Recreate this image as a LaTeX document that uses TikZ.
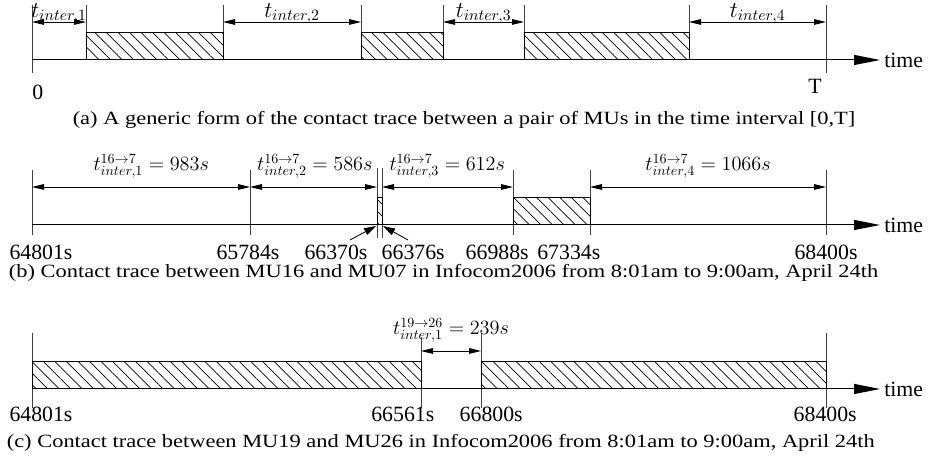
\RequirePackage{fix-cm}
\documentclass[tikz,border=0pt]{standalone}
\usepackage{fontspec}
\setmainfont{Liberation Serif}
\newfontfamily\capfont[FakeStretch=1.2]{Liberation Serif}
\usetikzlibrary{arrows.meta,patterns.meta}

\tikzset{
  axisline/.style={line width=0.7pt, -{Triangle[length=6.5mm,width=2.5mm]}},
  tickline/.style={line width=0.7pt, black!75},
  contact/.style={line width=0.7pt, pattern={Lines[angle=-45,distance=5.8pt,line width=0.5pt]}},
  dimarrow/.style={line width=0.6pt, {Triangle[length=3mm,width=1.4mm]}-{Triangle[length=3mm,width=1.4mm]}},
  ptrarrow/.style={line width=0.6pt, -{Triangle[length=3mm,width=1.8mm]}},
  ticklabel/.style={anchor=base, inner sep=0pt, font=\fontsize{15.5}{18}\selectfont},
  timelabel/.style={anchor=west, inner sep=0pt, font=\fontsize{15.5}{18}\selectfont},
  mathlabel/.style={anchor=base, inner sep=0pt, font=\fontsize{14.4}{17}\selectfont},
  genlabel/.style={anchor=base, inner sep=0pt, font=\fontsize{16}{19}\selectfont},
  caption/.style={inner sep=0pt, font=\capfont\fontsize{13.3}{16}\selectfont}
}

\begin{document}
\begin{tikzpicture}

\useasboundingbox (0,0) rectangle (23.225,11.7);

% ----------------------------------------------------
% (a) generic contact trace
% ----------------------------------------------------
\begin{scope}[yshift=10.2cm]
  \coordinate (a0) at (0.8,0);
  \coordinate (aend) at (22.0,0);
  \draw[tickline] (0.8,-0.325) -- (0.8,1.375);
  \draw[tickline] (20.65,-0.325) -- (20.65,1.375);
  \foreach \x in {2.15,5.575,9.025,11.075,13.1,17.225}
    \draw[tickline] (\x,0) -- (\x,1.375);

  \draw[contact] (2.15,0) rectangle (5.575,0.675);
  \draw[contact] (9.025,0) rectangle (11.075,0.675);
  \draw[contact] (13.1,0) rectangle (17.225,0.675);

  \draw[axisline] (a0) -- (aend);
  \node[timelabel] (atime) at (22.1,0) {time};

  % inter-contact times
  \foreach \x/\n in {0.8/0, 2.15/1, 5.575/2, 9.025/3, 11.075/4, 13.1/5, 17.225/6, 20.65/7}
    \coordinate (ad\n) at (\x,0.95);
  \draw[dimarrow] (ad0) -- (ad1);
  \draw[dimarrow] (ad2) -- (ad3);
  \draw[dimarrow] (ad4) -- (ad5);
  \draw[dimarrow] (ad6) -- (ad7);
  \node[genlabel] (at1) at (1.475,1.07) {$t_{inter,1}$};
  \node[genlabel] (at2) at (7.3,1.07) {$t_{inter,2}$};
  \node[genlabel] (at3) at (12.09,1.07) {$t_{inter,3}$};
  \node[genlabel] (at4) at (18.94,1.07) {$t_{inter,4}$};

  \node[ticklabel, anchor=base west] (azero) at (0.8,-1.0) {0};
  \node[ticklabel, anchor=base east] (aT) at (20.55,-0.85) {T};

  \node[caption] (acap) at (11.6,-1.5) {(a) A generic form of the contact trace between a pair of MUs in the time interval [0,T]};
\end{scope}

% ----------------------------------------------------
% (b) MU16 and MU07
% ----------------------------------------------------
\begin{scope}[yshift=6.075cm]
  \coordinate (b0) at (0.8,0);
  \coordinate (bend) at (22.0,0);
  \draw[tickline] (0.8,-0.25) -- (0.8,1.375);
  \draw[tickline] (6.25,-0.25) -- (6.25,1.375);
  \draw[tickline] (9.425,-0.325) -- (9.425,1.425);
  \draw[tickline] (9.55,-0.325) -- (9.55,1.425);
  \draw[tickline] (12.825,-0.25) -- (12.825,1.375);
  \draw[tickline] (14.75,-0.25) -- (14.75,1.375);
  \draw[tickline] (20.65,-0.25) -- (20.65,1.375);

  \draw[contact] (9.425,0) rectangle (9.55,0.675);
  \draw[contact] (12.825,0) rectangle (14.75,0.675);

  \draw[axisline] (b0) -- (bend);
  \node[timelabel] (btime) at (22.1,0) {time};

  \foreach \x/\n in {0.8/0, 6.25/1, 9.425/2, 9.55/3, 12.825/4, 14.75/5, 20.65/6}
    \coordinate (bd\n) at (\x,0.95);
  \draw[dimarrow] (bd0) -- (bd1);
  \draw[dimarrow] (bd1) -- (bd2);
  \draw[dimarrow] (bd3) -- (bd4);
  \draw[dimarrow] (bd5) -- (bd6);
  \node[mathlabel] (bt1) at (3.78,1.36) {$t^{16\to7}_{inter,1}=983s$};
  \node[mathlabel] (bt2) at (7.87,1.36) {$t^{16\to7}_{inter,2}=586s$};
  \node[mathlabel] (bt3) at (11.18,1.36) {$t^{16\to7}_{inter,3}=612s$};
  \node[mathlabel] (bt4) at (17.7,1.36) {$t^{16\to7}_{inter,4}=1066s$};

  \node[ticklabel] (bl0) at (1.025,-0.875) {64801s};
  \node[ticklabel] (bl1) at (6.2,-0.875) {65784s};
  \node[ticklabel] (bl2) at (8.4,-0.875) {66370s};
  \node[ticklabel] (bl3) at (10.33,-0.875) {66376s};
  \node[ticklabel] (bl4) at (12.43,-0.875) {66988s};
  \node[ticklabel] (bl5) at (14.22,-0.875) {67334s};
  \node[ticklabel] (bl6) at (20.65,-0.875) {68400s};

  % pointers to the short contact
  \coordinate (bp2) at (9.4,-0.025);
  \coordinate (bp3) at (9.575,-0.025);
  \coordinate (bq2) at (8.75,-0.375);
  \coordinate (bq3) at (10.2,-0.375);
  \draw[ptrarrow] (bq2) -- (bp2);
  \draw[ptrarrow] (bq3) -- (bp3);

  \node[caption] (bcap) at (11.09,-1.2) {(b) Contact trace between MU16 and MU07 in Infocom2006 from 8:01am to 9:00am, April 24th};
\end{scope}

% ----------------------------------------------------
% (c) MU19 and MU26
% ----------------------------------------------------
\begin{scope}[yshift=1.975cm]
  \coordinate (c0) at (0.8,0);
  \coordinate (cend) at (22.0,0);
  \draw[tickline] (0.8,-0.475) -- (0.8,1.4);
  \draw[tickline] (10.525,-0.475) -- (10.525,1.3);
  \draw[tickline] (12.025,-0.475) -- (12.025,1.4);
  \draw[tickline] (20.65,-0.475) -- (20.65,1.4);

  \draw[contact] (0.8,0) rectangle (10.525,0.675);
  \draw[contact] (12.025,0) rectangle (20.65,0.675);

  \draw[axisline] (c0) -- (cend);
  \node[timelabel] (ctime) at (22.1,0) {time};

  \coordinate (cd1) at (10.525,0.95);
  \coordinate (cd2) at (12.025,0.95);
  \draw[dimarrow] (cd1) -- (cd2);
  \node[mathlabel] (ct1) at (11.275,1.35) {$t^{19\to26}_{inter,1}=239s$};

  \node[ticklabel] (cl0) at (1.025,-0.82) {64801s};
  \node[ticklabel] (cl1) at (10.07,-0.82) {66561s};
  \node[ticklabel] (cl2) at (12.28,-0.82) {66800s};
  \node[ticklabel] (cl3) at (20.63,-0.82) {68400s};

  \node[caption] (ccap) at (11.02,-1.35) {(c) Contact trace between MU19 and MU26 in Infocom2006 from 8:01am to 9:00am, April 24th};
\end{scope}

\end{tikzpicture}
\end{document}
